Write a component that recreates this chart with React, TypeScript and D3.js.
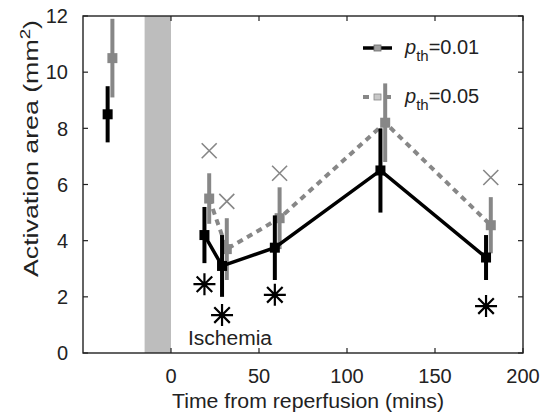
import React from "react";
import { scaleLinear, line } from "d3";

// minutes relative to reperfusion; first point is the pre-ischemia baseline
const times = [-35, 20, 30, 60, 120, 180];
const meanP01 = [8.5, 4.2, 3.1, 3.75, 6.5, 3.4];
const errP01 = [1.0, 1.0, 1.1, 1.15, 1.5, 0.8];
const meanP05 = [10.5, 5.5, 3.7, 4.8, 8.2, 4.55];
const errP05 = [1.4, 0.9, 1.1, 1.1, 1.4, 1.0];

// significance markers
const crossTimes = [20, 30, 60, 180];
const crossValues = [7.2, 5.4, 6.4, 6.25];
const starTimes = [20, 30, 60, 180];
const starValues = [2.45, 1.35, 2.07, 1.67];

const ischemia = [-15, 0];
const xTicks = [0, 50, 100, 150, 200];
const yTicks = [0, 2, 4, 6, 8, 10, 12];

const width = 541;
const height = 416;
const margin = { top: 16, right: 18, bottom: 63, left: 83 };
const innerRight = width - margin.right;
const innerBottom = height - margin.bottom;

const font = "'Liberation Sans', Arial, Helvetica, sans-serif";
const gray = "#878787";
const dodge01 = -1;
const dodge05 = 1.7;

const App = () => {
  const x = scaleLinear().domain([-50, 200]).range([margin.left, innerRight]);
  const y = scaleLinear().domain([0, 12]).range([innerBottom, margin.top]);

  const pts01 = times.map((t, i) => ({ t: t + dodge01, v: meanP01[i], e: errP01[i] }));
  const pts05 = times.map((t, i) => ({ t: t + dodge05, v: meanP05[i], e: errP05[i] }));

  const path = line<{ t: number; v: number }>()
    .x(d => x(d.t))
    .y(d => y(d.v));

  const sq = 10;
  const errorBars = (pts, color) =>
    pts.map((d, i) => (
      <g key={i}>
        <line
          x1={x(d.t)} x2={x(d.t)}
          y1={y(Math.min(d.v + d.e, 12))} y2={y(d.v - d.e)}
          stroke={color} strokeWidth={4}
        />
        <rect x={x(d.t) - sq / 2} y={y(d.v) - sq / 2} width={sq} height={sq} fill={color} />
      </g>
    ));

  const star = (cx, cy, r) => {
    const a = r * Math.SQRT1_2;
    return `M${cx - r},${cy}L${cx + r},${cy}M${cx},${cy - r}L${cx},${cy + r}` +
      `M${cx - a},${cy - a}L${cx + a},${cy + a}M${cx - a},${cy + a}L${cx + a},${cy - a}`;
  };
  const cross = (cx, cy, r) =>
    `M${cx - r},${cy - r}L${cx + r},${cy + r}M${cx - r},${cy + r}L${cx + r},${cy - r}`;

  return (
    <svg
      width={width}
      height={height}
      style={{ position: "absolute", left: 0, top: 0, background: "#fff" }}
      fontFamily={font}
    >
      <rect
        x={x(ischemia[0])}
        y={margin.top}
        width={x(ischemia[1]) - x(ischemia[0])}
        height={innerBottom - margin.top}
        fill="#bdbdbd"
      />

      {/* p=0.05 series */}
      <path d={path(pts05.slice(1)) || ""} fill="none" stroke={gray} strokeWidth={4} strokeDasharray="6,5" />
      {errorBars(pts05, gray)}

      {/* p=0.01 series */}
      <path d={path(pts01.slice(1)) || ""} fill="none" stroke="#000" strokeWidth={3.5} />
      {errorBars(pts01, "#000")}

      {crossTimes.map((t, i) => (
        <path key={i} d={cross(x(t + dodge05), y(crossValues[i]), 7.5)} stroke={gray} strokeWidth={1.6} fill="none" />
      ))}
      {starTimes.map((t, i) => (
        <path key={i} d={star(x(t + dodge01), y(starValues[i]), 11)} stroke="#000" strokeWidth={2.2} fill="none" />
      ))}

      {/* axes box */}
      <rect
        x={margin.left}
        y={margin.top}
        width={innerRight - margin.left}
        height={innerBottom - margin.top}
        fill="none"
        stroke="#222"
        strokeWidth={1.4}
      />
      {xTicks.map(t => (
        <g key={t}>
          <line x1={x(t)} x2={x(t)} y1={innerBottom} y2={innerBottom - 5} stroke="#222" strokeWidth={1.2} />
          <line x1={x(t)} x2={x(t)} y1={margin.top} y2={margin.top + 5} stroke="#222" strokeWidth={1.2} />
          <text x={x(t)} y={383} fontSize={20} textAnchor="middle" fill="#222">{t}</text>
        </g>
      ))}
      {yTicks.map(t => (
        <g key={t}>
          <line x1={margin.left} x2={margin.left + 5} y1={y(t)} y2={y(t)} stroke="#222" strokeWidth={1.2} />
          <line x1={innerRight} x2={innerRight - 5} y1={y(t)} y2={y(t)} stroke="#222" strokeWidth={1.2} />
          <text x={68} y={y(t)} dy="0.36em" fontSize={20} textAnchor="end" fill="#222">{t}</text>
        </g>
      ))}

      <text x={188} y={345} fontSize={20} fill="#222" textLength={84} lengthAdjust="spacingAndGlyphs">Ischemia</text>

      <text
        x={308} y={408} fontSize={19.5} textAnchor="middle" fill="#222"
        textLength={272} lengthAdjust="spacingAndGlyphs"
      >
        Time from reperfusion (mins)
      </text>
      <text
        transform="translate(38,148.5) rotate(-90)" fontSize={20} textAnchor="middle" fill="#222"
        textLength={257} lengthAdjust="spacingAndGlyphs"
      >
        <tspan>Activation area (mm</tspan>
        <tspan dy={-8} fontSize={14}>2</tspan>
        <tspan dy={8}>)</tspan>
      </text>

      {/* legend */}
      <g>
        <line x1={363} x2={392} y1={48} y2={48} stroke="#000" strokeWidth={3.5} />
        <rect x={374} y={45} width={7} height={6} fill="#a0a0a0" stroke="#666" strokeWidth={0.8} />
        <text x={405} y={54} fontSize={20} fill="#222">
          <tspan fontStyle="italic">p</tspan>
          <tspan dy={7} fontSize={15}>th</tspan>
          <tspan dy={-7}>=0.01</tspan>
        </text>
        <line x1={363} x2={392} y1={97} y2={97} stroke={gray} strokeWidth={4} strokeDasharray="6,5" />
        <rect x={374} y={94} width={7} height={6} fill="#c8c8c8" stroke="#888" strokeWidth={0.8} />
        <text x={405} y={103} fontSize={20} fill="#222">
          <tspan fontStyle="italic">p</tspan>
          <tspan dy={7} fontSize={15}>th</tspan>
          <tspan dy={-7}>=0.05</tspan>
        </text>
      </g>
    </svg>
  );
};

export default App;
